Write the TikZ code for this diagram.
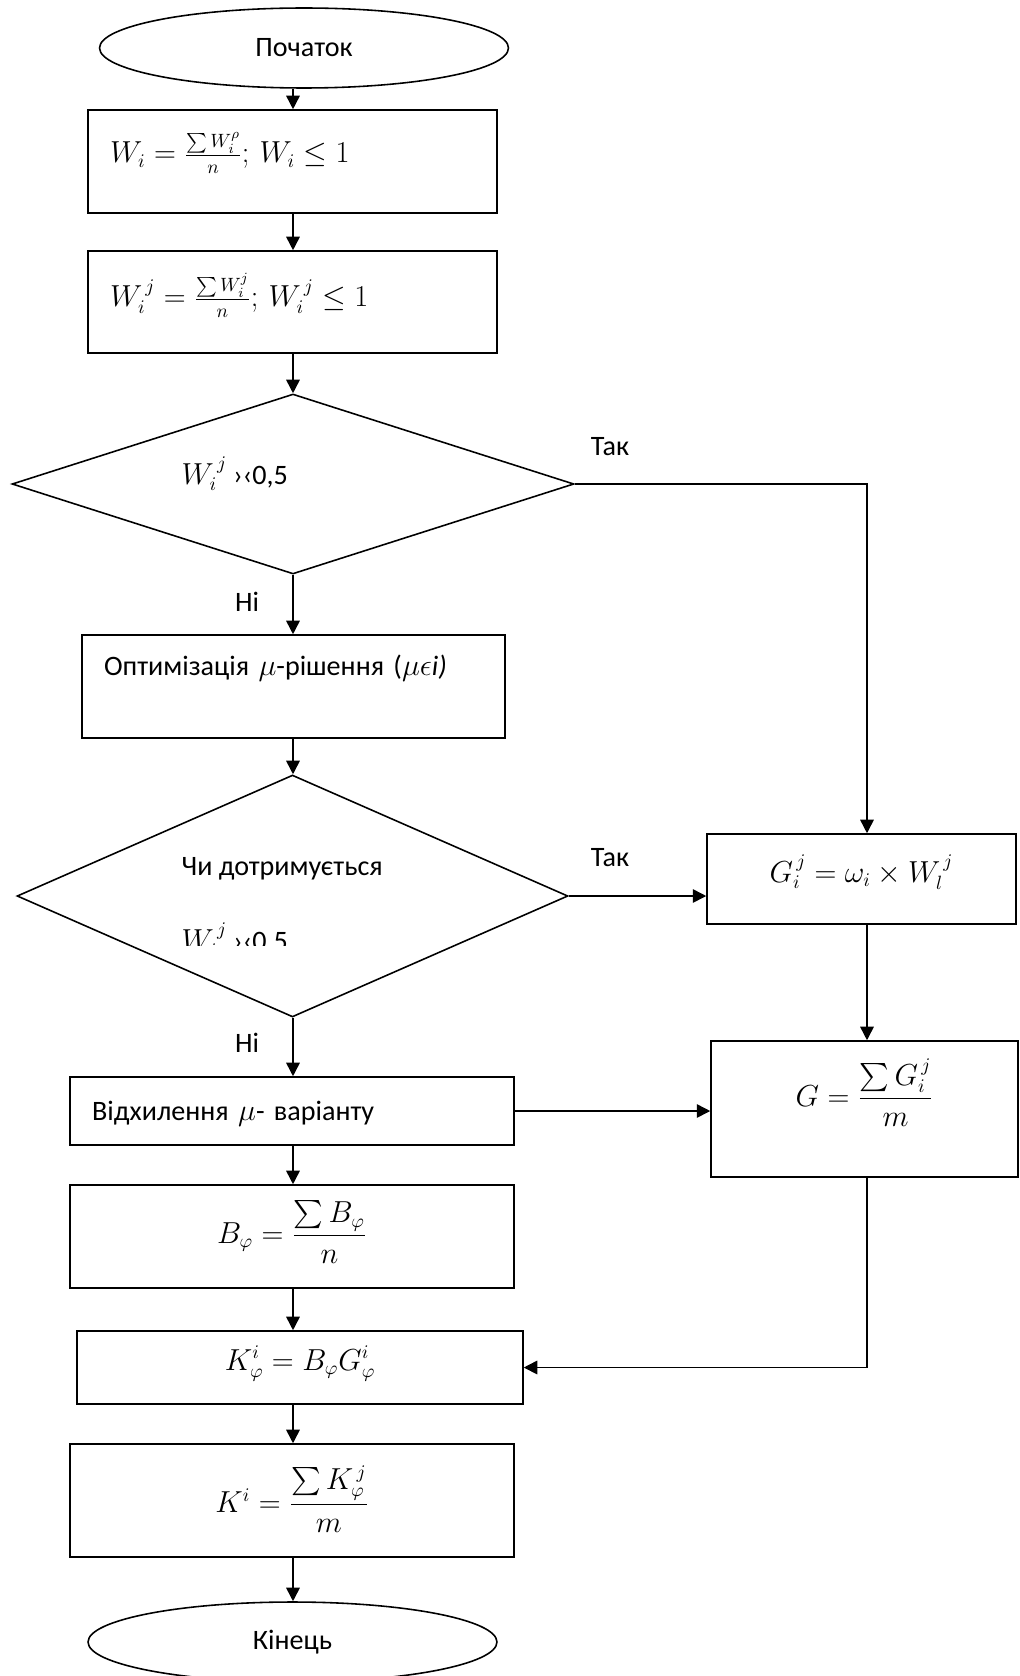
\documentclass[tikz,border=0pt]{standalone}
\usepackage[no-math]{fontspec}
\setmainfont{Carlito}
\usepackage{amsmath}
\usepackage{amssymb}
\usetikzlibrary{shapes.geometric,arrows.meta}

\begin{document}
\begin{tikzpicture}
  [x=0.02cm,y=-0.02cm,line width=0.9pt,
   every node/.style={font=\fontsize{16}{19}\selectfont},
   blk/.style={draw,rectangle,inner sep=0pt},
   lblk/.style={blk,inner xsep=0.44cm,align=left},
   term/.style={draw,ellipse,inner sep=0pt,minimum width=8.18cm,minimum height=1.6cm},
   cond/.style={draw,diamond,inner sep=0pt},
   arr/.style={-{Triangle[length=0.27cm,width=0.27cm]}}]
  \useasboundingbox (0,0) rectangle (1019,1676);
  \coordinate (col) at (293,0);
  \coordinate (rail) at (867,0);

  \node[term] (st) at (304,48) {Початок};
  \node[lblk,text width=7.30cm,text height=1.06cm,text depth=1.00cm] (w1) at (292.5,161.5)
    {$W_i = \frac{\sum W_i^{\rho}}{n};\,W_i \le 1$};
  \node[lblk,text width=7.30cm,text height=1.12cm,text depth=0.92cm] (w2) at (292.5,302)
    {$W_i^{\,j} = \frac{\sum W_i^{j}}{n};\,W_i^{\,j} \le 1$};
  \node[cond,minimum width=11.24cm,minimum height=3.6cm] (d1) at (293,484) {};
  \node[anchor=base west] (q1) at (175,484) {$W_i^{\,j}$ ›‹0,5};
  \node[lblk,text width=7.58cm,text height=0.80cm,text depth=1.26cm] (opt) at (293.5,686.5)
    {Оптимізація $\mu$-рішення ($\mu\epsilon$\textit{i)}};
  \node[cond,minimum width=11.02cm,minimum height=4.84cm] (d2) at (292.5,896) {};
  \node[anchor=base west] (q2) at (175,875) {Чи дотримується};
  \begin{scope}
    \clip (150,900) rectangle (450,945);
    \node[anchor=base west] (q3) at (175,950) {$W_i^{\,j}$ ›‹0,5};
  \end{scope}
  \node[blk,minimum width=6.18cm,text height=0.96cm,text depth=0.84cm] (gij) at (861.5,879)
    {$G_i^{\,j} = \omega_i \times W_l^{\,j}$};
  \node[blk,minimum width=6.14cm,text height=1.30cm,text depth=1.42cm] (gsum) at (864.5,1109)
    {$G = \dfrac{\sum G_i^{\,j}}{m}$};
  \node[lblk,text width=8.00cm,text height=0.86cm,text depth=0.50cm] (vid) at (292,1111)
    {Відхилення $\mu$- варіанту};
  \node[blk,minimum width=8.88cm,text height=1.16cm,text depth=0.90cm] (bphi) at (292,1236.5)
    {$B_\varphi = \dfrac{\sum B_\varphi}{n}$};
  \node[blk,minimum width=8.92cm,text height=0.78cm,text depth=0.68cm] (kphi) at (300,1367.5)
    {$K_\varphi^{i} = B_\varphi G_\varphi^{i}$};
  \node[blk,minimum width=8.88cm,text height=1.36cm,text depth=0.90cm] (ki) at (292,1500.5)
    {$K^{i} = \dfrac{\sum K_\varphi^{\,j}}{m}$};
  \node[term] (fin) at (292.5,1642) {Кінець};

  \node (tak1) at (610,447) {Так};
  \node (tak2) at (610,858) {Так};
  \node (ni1) at (247,602) {Ні};
  \node (ni2) at (247,1043) {Ні};

  \foreach \from/\to in {st/w1,w1/w2,w2/d1,d1/opt,opt/d2,d2/vid,vid/bphi,bphi/kphi,kphi/ki,ki/fin}
    \draw[arr] (\from.south -| col) -- (\to.north -| col);

  \draw[arr] (d1.east) -| (gij.north -| rail);
  \draw[arr] (d2.east) -- (gij.west |- d2.east);
  \draw[arr] (gij.south -| rail) -- (gsum.north -| rail);
  \draw[arr] (vid.east) -- (gsum.west |- vid.east);
  \draw[arr] (gsum.south -| rail) |- (kphi.east);

\end{tikzpicture}
\end{document}
